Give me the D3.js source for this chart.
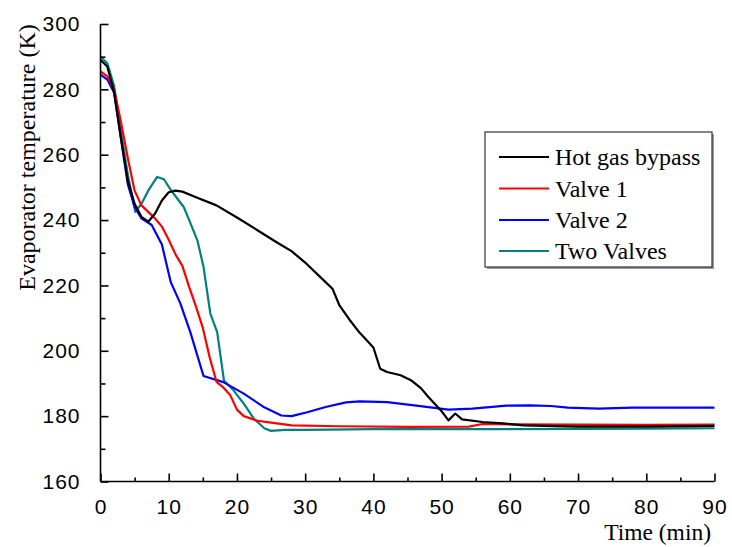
<!DOCTYPE html>
<html>
<head>
<meta charset="utf-8">
<script src="https://cdn.jsdelivr.net/npm/d3@7"></script>
<style>
html,body{margin:0;padding:0;background:#fff;}
svg{display:block;}
</style>
</head>
<body>
<svg id="chart" width="732" height="547"></svg>
<script>
const seriesNames = ["Hot gas bypass", "Valve 1", "Valve 2", "Two Valves"];
const seriesColors = ["#000000", "#ff0000", "#0000ff", "#008080"];

const hotGasTime = [0,1,2,3,4,5,6,7,8,9,10,11,12,14,17,20,23,26,28,30,32,34,35,36.5,38,40,41,42,44,45.5,47,48,50,51,52,53,56,59,62,70,80,90];
const hotGasTemp = [289,287,279,265,252,245,241,239.5,242,246,248.5,249,248.7,247,244.5,240.8,236.9,233,230.5,227,223,219,214,209.5,205.5,201,194.5,193.5,192.5,191,188.5,186,181.5,178.7,180.8,179,178.2,177.8,177.2,176.8,176.8,177];

const valve1Time = [0,1,2,3,4,5,6,7,8,9,10,11,12,13,14,15,16,17,18,19,20,21,23,25,28,35,45,54,56,60,70,80,90];
const valve1Temp = [285.5,284,280,270,259,249,244.5,242.5,240.5,238,234,229.5,226,219.5,213.5,207,198,190.5,188.8,186.5,182,180,178.6,178,177.2,176.9,176.7,176.8,177.6,177.5,177.4,177.3,177.4];

const valve2Time = [0,1,2,3,4,5,6,7.5,9,10.3,11.7,13.2,15.1,18,21,24,26.5,28,30.3,33,36,38,42,46,51,54.5,59.5,63,66,68.5,73,78,85,90];
const valve2Temp = [284.5,283,279,265,251,244,240.5,238.5,232.5,221,214.5,205.5,192.3,190.4,186.9,182.7,180.2,180,181.2,182.8,184.2,184.5,184.3,183.3,182,182.3,183.2,183.3,183.1,182.6,182.3,182.6,182.6,182.6];

const twoValvesTime = [0,1,2,3,4,5.1,6,7,8.3,9.3,10.3,12.2,13,14.2,15.1,16.1,17.1,18.1,19.5,21,22.5,24,25,27,30,40,50,60,70,80,90];
const twoValvesTemp = [290,288,281,267,254,242.5,245,249,253.2,252.5,249.2,244,240,233.8,225.7,211.4,205.7,190.9,187.9,183.8,179.2,176.3,175.5,175.8,175.8,176,176,176,176.1,176.2,176.3];

const xTicks = [0,10,20,30,40,50,60,70,80,90];
const yTicks = [160,180,200,220,240,260,280,300];
const xLabel = "Time (min)";
const yLabel = "Evaporator temperature (K)";

const seriesTimes = [hotGasTime, valve1Time, valve2Time, twoValvesTime];
const seriesTemps = [hotGasTemp, valve1Temp, valve2Temp, twoValvesTemp];

const svg = d3.select("#chart");
const x = d3.scaleLinear().domain([0, 90]).range([100.5, 714.5]);
const y = d3.scaleLinear().domain([160, 300]).range([481.5, 24]);

// lines
const line = d3.line().x(d => x(d[0])).y(d => y(d[1]));
const lineG = svg.append("g");
for (let i = seriesNames.length - 1; i >= 0; i--) {
  const pts = seriesTimes[i].map((t, j) => [t, seriesTemps[i][j]]);
  lineG.append("path").datum(pts)
    .attr("d", line).attr("fill", "none")
    .attr("stroke", seriesColors[i]).attr("stroke-width", 2.2)
    .attr("stroke-linejoin", "round");
}

// axes (ticks inward)
const xAxis = d3.axisBottom(x).tickValues(xTicks).tickSize(-8).tickPadding(18).tickFormat(d3.format("d"));
const gx = svg.append("g").attr("transform", "translate(0,481.5)").call(xAxis);
const xMinor = d3.axisBottom(x).tickValues(d3.range(5, 90, 10)).tickSize(-4).tickFormat("");
svg.append("g").attr("transform", "translate(0,481.5)").call(xMinor).select(".domain").remove();

const yAxis = d3.axisLeft(y).tickValues(yTicks).tickSize(-8).tickPadding(20).tickFormat(d3.format("d"));
const gy = svg.append("g").attr("transform", "translate(100.5,0)").call(yAxis);
const yMinor = d3.axisLeft(y).tickValues(d3.range(170, 300, 20)).tickSize(-5).tickFormat("");
svg.append("g").attr("transform", "translate(100.5,0)").call(yMinor).select(".domain").remove();

svg.selectAll(".domain, .tick line").attr("stroke", "#000").attr("stroke-width", 1.6);
gx.select(".domain").attr("d", `M${x(0)},0H${x(90)}`);
gy.select(".domain").attr("d", `M0,${y(160)}V${y(300)}`);
svg.selectAll(".tick text")
  .attr("font-family", "Liberation Sans, Arial, sans-serif")
  .attr("font-size", 21).attr("fill", "#000");
gx.selectAll(".tick text").attr("dy", "0.71em").attr("letter-spacing", "1px");
gy.selectAll(".tick text").attr("letter-spacing", "1px");

// axis titles
svg.append("text").attr("x", 711).attr("y", 540)
  .attr("text-anchor", "end")
  .attr("font-family", "Liberation Serif, Times New Roman, serif")
  .attr("font-size", 23.5).text(xLabel);
svg.append("text")
  .attr("transform", `translate(35,${(25 + 290) / 2}) rotate(-90)`)
  .attr("text-anchor", "middle")
  .attr("font-family", "Liberation Serif, Times New Roman, serif")
  .attr("font-size", 24).text(yLabel);

// legend
const lg = svg.append("g");
lg.append("rect").attr("x", 487).attr("y", 134).attr("width", 227).attr("height", 135).attr("fill", "#999");
lg.append("rect").attr("x", 485).attr("y", 132).attr("width", 227).attr("height", 135)
  .attr("fill", "#fff").attr("stroke", "#333").attr("stroke-width", 1.2);
const rowY = [157, 188.5, 220, 251];
seriesNames.forEach((name, i) => {
  lg.append("line").attr("x1", 499).attr("x2", 549).attr("y1", rowY[i]).attr("y2", rowY[i])
    .attr("stroke", seriesColors[i]).attr("stroke-width", 2.2);
  lg.append("text").attr("x", 555).attr("y", rowY[i] + 8)
    .attr("font-family", "Liberation Serif, Times New Roman, serif")
    .attr("font-size", 24).text(name);
});
</script>
</body>
</html>
